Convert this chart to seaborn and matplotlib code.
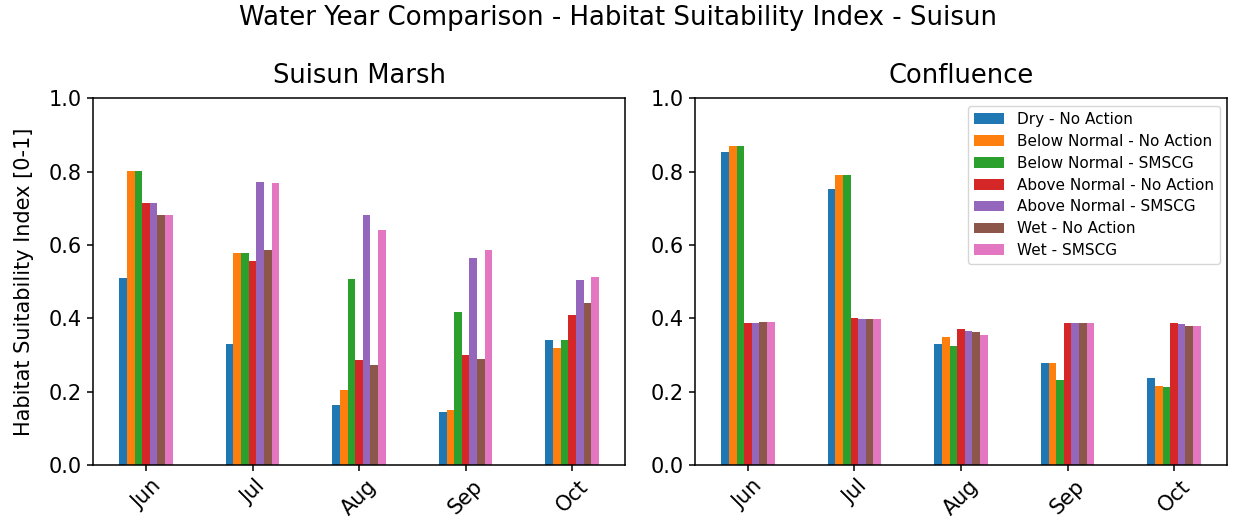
import pandas as pd
import matplotlib
matplotlib.use('Agg')
import matplotlib.pyplot as plt
import seaborn as sns

# Months and scenarios
months = ['Jun', 'Jul', 'Aug', 'Sep', 'Oct']
scenarios = ['Dry - No Action', 'Below Normal - No Action', 'Below Normal - SMSCG',
             'Above Normal - No Action', 'Above Normal - SMSCG',
             'Wet - No Action', 'Wet - SMSCG']

# Suisun Marsh HSI values (one list per scenario, Jun..Oct)
marsh_dry_na = [0.511, 0.330, 0.165, 0.144, 0.342]
marsh_bn_na = [0.801, 0.577, 0.204, 0.150, 0.318]
marsh_bn_smscg = [0.801, 0.577, 0.508, 0.417, 0.342]
marsh_an_na = [0.715, 0.556, 0.286, 0.299, 0.410]
marsh_an_smscg = [0.715, 0.772, 0.683, 0.564, 0.505]
marsh_wet_na = [0.681, 0.585, 0.272, 0.288, 0.441]
marsh_wet_smscg = [0.681, 0.768, 0.640, 0.585, 0.514]

# Confluence HSI values
conf_dry_na = [0.853, 0.753, 0.331, 0.277, 0.238]
conf_bn_na = [0.870, 0.790, 0.348, 0.277, 0.216]
conf_bn_smscg = [0.870, 0.790, 0.326, 0.232, 0.214]
conf_an_na = [0.386, 0.400, 0.372, 0.386, 0.386]
conf_an_smscg = [0.386, 0.399, 0.366, 0.386, 0.385]
conf_wet_na = [0.389, 0.399, 0.364, 0.386, 0.380]
conf_wet_smscg = [0.389, 0.397, 0.355, 0.386, 0.380]

marsh_values = [marsh_dry_na, marsh_bn_na, marsh_bn_smscg, marsh_an_na,
                marsh_an_smscg, marsh_wet_na, marsh_wet_smscg]
conf_values = [conf_dry_na, conf_bn_na, conf_bn_smscg, conf_an_na,
               conf_an_smscg, conf_wet_na, conf_wet_smscg]


def to_long(values):
    rows = []
    for name, vals in zip(scenarios, values):
        for m, v in zip(months, vals):
            rows.append({'Month': m, 'Scenario': name, 'HSI': v})
    return pd.DataFrame(rows)


df_marsh = to_long(marsh_values)
df_conf = to_long(conf_values)

palette = sns.color_palette('tab10', 7)

fig, axes = plt.subplots(1, 2, figsize=(12.36, 5.25), dpi=100)
plt.subplots_adjust(left=0.075, right=0.993, top=0.813, bottom=0.114, wspace=0.13)

for ax, df, title in zip(axes, [df_marsh, df_conf], ['Suisun Marsh', 'Confluence']):
    sns.barplot(data=df, x='Month', y='HSI', hue='Scenario', hue_order=scenarios,
                order=months, palette=palette, saturation=1, width=0.5,
                errorbar=None, ax=ax)
    ax.set_ylim(0, 1.0)
    ax.set_title(title, fontsize=18.5, pad=11)
    ax.set_xlabel('')
    ax.set_ylabel('')
    ax.tick_params(axis='x', labelrotation=45, labelsize=15, length=4.5, width=1.1)
    ax.tick_params(axis='y', labelsize=15, length=4.5, width=1.1)
    for s in ax.spines.values():
        s.set_linewidth(1.1)

axes[0].set_ylabel('Habitat Suitability Index [0-1]', fontsize=15, labelpad=10)
axes[0].get_legend().remove()
axes[1].legend(loc='upper right', fontsize=11, labelspacing=0.45)

fig.suptitle('Water Year Comparison - Habitat Suitability Index - Suisun', fontsize=18.75, y=0.99)

plt.savefig('out.png', dpi=100)
